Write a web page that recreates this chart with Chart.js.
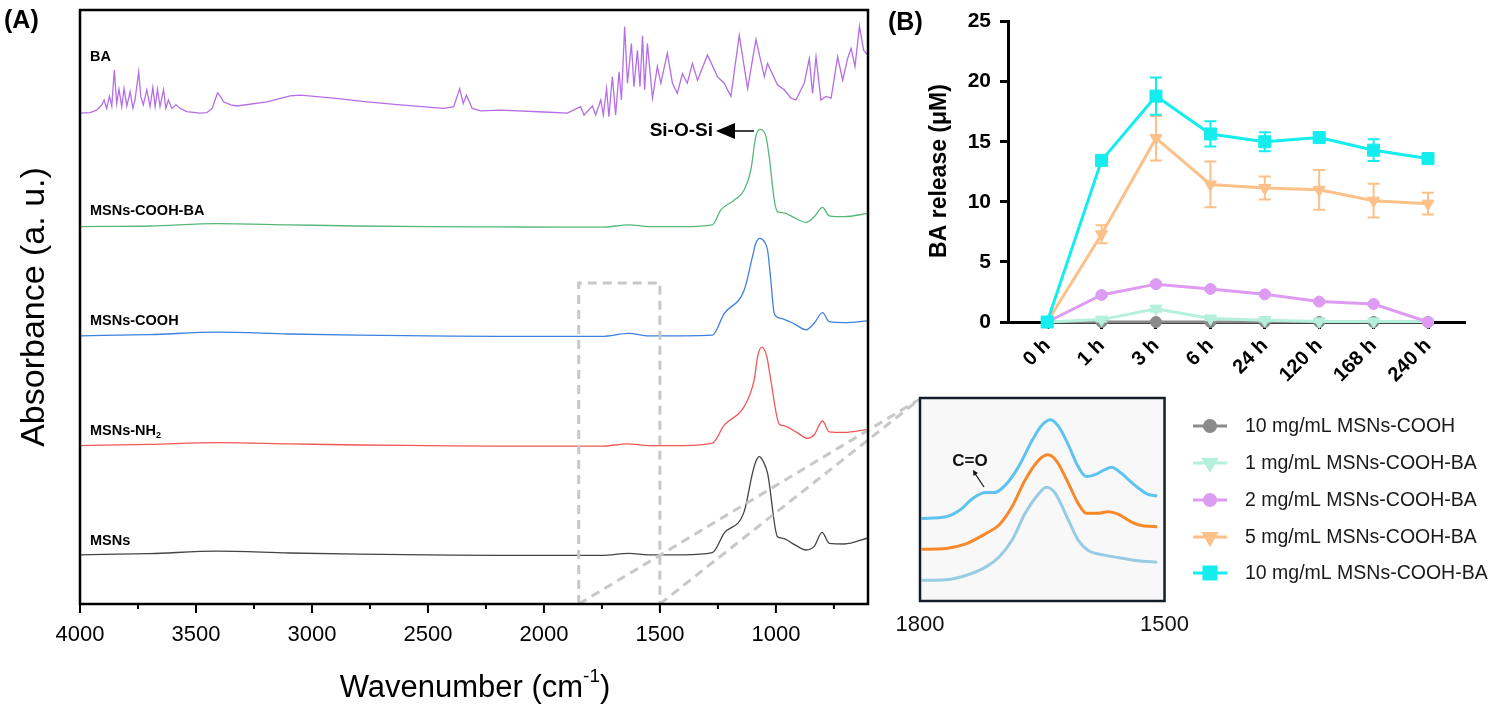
<!DOCTYPE html>
<html>
<head>
<meta charset="utf-8">
<script src="https://cdn.jsdelivr.net/npm/chart.js@4.4.0/dist/chart.umd.min.js"></script>
<style>
  body { margin: 0; background: #fff; width: 1500px; height: 707px; position: relative; overflow: hidden; }
  canvas { position: absolute; }
  #specA { left: 0; top: 0; }
  #inset { left: 880px; top: 370px; }
  #releaseB { left: 880px; top: 0; }
</style>
</head>
<body>
<canvas id="specA" width="940" height="707"></canvas>
<canvas id="inset" width="320" height="290"></canvas>
<canvas id="releaseB" width="620" height="707"></canvas>
<script>
'use strict';
const SANS = "'Liberation Sans', Arial, Helvetica, sans-serif";
Chart.defaults.font.family = SANS;
Chart.defaults.color = '#000';

// =============== panel A: FTIR spectra (stacked, arbitrary units) ===============
const waveBA = [4000, 3957, 3928, 3906, 3896, 3885, 3873, 3863, 3852, 3842, 3832, 3820, 3810, 3798, 3784, 3772, 3763, 3747, 3738, 3727, 3712, 3698, 3686, 3676, 3666, 3655, 3640, 3630, 3619, 3604, 3586, 3568, 3540, 3482, 3453, 3430, 3418, 3407, 3395, 3381, 3350, 3324, 3194, 3094, 3050, 2907, 2763, 2619, 2432, 2389, 2363, 2348, 2334, 2309, 2273, 2187, 2000, 1899, 1842, 1827, 1791, 1777, 1755, 1744, 1730, 1720, 1705, 1691, 1676, 1666, 1652, 1640, 1623, 1612, 1597, 1586, 1575, 1566, 1554, 1532, 1511, 1496, 1468, 1446, 1425, 1403, 1382, 1360, 1338, 1295, 1252, 1223, 1194, 1158, 1122, 1086, 1050, 1036, 993, 964, 935, 914, 878, 856, 842, 827, 806, 784, 762, 734, 712, 691, 676, 659, 640, 622, 604];
const absBA = [81.8, 81.9, 82.3, 83.2, 84.0, 82.6, 84.6, 83.0, 89.0, 83.4, 85.8, 82.9, 85.9, 83.0, 85.4, 82.6, 84.0, 88.7, 84.6, 83.2, 85.7, 82.9, 86.1, 82.9, 85.8, 82.9, 85.7, 82.6, 84.0, 82.6, 83.2, 82.6, 82.05, 81.8, 81.9, 82.6, 84.0, 85.2, 84.6, 83.7, 83.2, 83.0, 83.7, 84.7, 84.8, 84.3, 83.7, 83.2, 82.6, 82.9, 85.9, 83.4, 84.8, 82.6, 82.2, 82.3, 82.0, 81.8, 82.9, 81.5, 83.0, 81.5, 84.0, 81.5, 85.9, 81.2, 87.9, 81.5, 88.7, 84.0, 96.2, 86.8, 93.4, 86.2, 92.3, 86.2, 94.7, 85.7, 93.4, 84.3, 89.6, 86.8, 91.8, 86.8, 85.1, 88.4, 86.8, 90.1, 87.3, 91.5, 87.9, 86.8, 84.6, 94.8, 85.9, 94.1, 87.9, 90.1, 86.5, 85.7, 84.3, 84.0, 86.8, 90.9, 85.1, 91.2, 84.0, 84.6, 84.3, 91.2, 87.3, 90.9, 92.6, 89.6, 96.3, 92.3, 91.5];

const waveCoohBA = [4000, 3700, 3409, 3100, 2800, 2500, 2200, 1900, 1750, 1633, 1550, 1400, 1274, 1237, 1180, 1137, 1108, 1087, 1065, 1043, 1029, 1007, 993, 967, 921, 870, 835, 799, 770, 705, 604];
const absCoohBA = [62.9, 63.0, 63.4, 63.2, 63.0, 62.9, 62.85, 62.8, 62.8, 63.2, 62.9, 62.9, 63.2, 65.7, 67.3, 69.0, 72.3, 77.9, 79.1, 77.9, 74.6, 67.3, 65.4, 65.2, 64.4, 63.6, 64.55, 66.1, 64.7, 64.55, 65.1];

const waveCooh = [4000, 3700, 3409, 3100, 2800, 2500, 2200, 1900, 1750, 1633, 1550, 1400, 1274, 1223, 1137, 1101, 1087, 1069, 1050, 1036, 1022, 1007, 979, 921, 870, 835, 799, 770, 705, 604];
const absCooh = [44.7, 44.9, 45.3, 45.0, 44.8, 44.7, 44.6, 44.6, 44.6, 45.1, 44.7, 44.7, 44.8, 48.4, 52.3, 57.9, 60.1, 60.95, 60.4, 59.0, 54.0, 48.4, 47.6, 46.7, 45.7, 46.8, 48.55, 47.05, 46.9, 47.2];

const waveNH2 = [4000, 3700, 3409, 3100, 2800, 2500, 2200, 1900, 1750, 1640, 1550, 1400, 1274, 1223, 1137, 1094, 1079, 1061, 1039, 1022, 986, 964, 910, 863, 835, 799, 770, 705, 604];
const absNH2 = [26.4, 26.6, 26.9, 26.7, 26.5, 26.4, 26.3, 26.3, 26.3, 26.7, 26.4, 26.4, 26.8, 29.8, 32.9, 37.3, 41.2, 42.8, 41.2, 37.3, 30.0, 29.7, 28.6, 27.6, 28.2, 30.5, 28.7, 28.6, 29.1];

const waveMSN = [4000, 3700, 3409, 3100, 2800, 2500, 2200, 1900, 1750, 1633, 1550, 1400, 1274, 1223, 1137, 1101, 1087, 1072, 1054, 1036, 993, 971, 920, 870, 835, 801, 770, 705, 604];
const absMSN = [8.2, 8.4, 8.8, 8.5, 8.3, 8.2, 8.1, 8.1, 8.1, 8.45, 8.2, 8.2, 8.55, 11.8, 15.4, 21.8, 23.7, 24.55, 23.7, 21.8, 11.2, 10.95, 9.9, 9.0, 9.6, 11.95, 10.1, 10.0, 11.0];

const specTicks = [4000, 3750, 3500, 3250, 3000, 2750, 2500, 2250, 2000, 1750, 1500, 1250, 1000, 750];

// =============== inset: 1800-1500 cm-1 zoom ===============
const insWaveTop = [1798, 1768, 1751, 1735, 1719, 1709, 1695, 1679, 1662, 1650, 1640, 1630, 1618, 1606, 1596, 1586, 1574, 1565, 1553, 1537, 1521, 1509];
const insAbsTop = [40.7, 41.5, 44.8, 50.6, 53.4, 53.4, 57.2, 66.2, 79.4, 86.8, 89.3, 86.0, 76.9, 66.2, 61.3, 62.1, 64.6, 65.9, 62.9, 57.2, 52.7, 51.7];
const insWaveMid = [1798, 1768, 1743, 1719, 1703, 1687, 1671, 1654, 1643, 1632, 1618, 1606, 1596, 1582, 1569, 1557, 1541, 1525, 1509];
const insAbsMid = [25.5, 25.9, 28.3, 33.3, 37.4, 46.5, 59.6, 69.5, 72.0, 68.7, 58.0, 48.1, 43.2, 43.2, 44.0, 42.8, 39.0, 36.9, 36.6];
const insWaveLow = [1798, 1768, 1743, 1719, 1703, 1687, 1671, 1654, 1645, 1634, 1618, 1606, 1594, 1574, 1557, 1533, 1509];
const insAbsLow = [10.2, 10.5, 12.7, 16.8, 21.7, 30.0, 43.2, 53.0, 56.0, 53.0, 39.9, 30.0, 25.0, 22.6, 21.4, 19.8, 19.1];

// =============== panel B: BA release ===============
const timeLabels = ['0 h', '1 h', '3 h', '6 h', '24 h', '120 h', '168 h', '240 h'];
const cooh10 = [0, 0, 0, 0, 0, 0, 0, 0];
const ba1 = [0, 0.2, 1.1, 0.3, 0.15, 0.05, 0.05, 0.05];
const ba1Err = [0, 0.15, 0.25, 0.15, 0.1, 0.05, 0.05, 0.05];
const ba2 = [0, 2.25, 3.15, 2.75, 2.3, 1.7, 1.5, 0];
const ba2Err = [0, 0.1, 0.15, 0.1, 0.1, 0.1, 0.1, 0];
const ba5 = [0, 7.3, 15.3, 11.45, 11.15, 11.0, 10.1, 9.85];
const ba5Err = [0, 0.75, 1.85, 1.9, 0.95, 1.65, 1.4, 0.9];
const ba10 = [0, 13.45, 18.8, 15.65, 15.0, 15.35, 14.3, 13.6];
const ba10Err = [0, 0.25, 1.55, 1.05, 0.8, 0.3, 0.9, 0.2];

const toXY = (xs, ys) => xs.map((x, i) => ({x: x, y: ys[i]}));

// =============== panel A chart ===============
function spectrum(xs, ys, color, smooth) {
    return {
        data: toXY(xs, ys),
        borderColor: color,
        borderWidth: 1.3,
        pointRadius: 0,
        tension: 0,
        cubicInterpolationMode: smooth ? 'monotone' : 'default'
    };
}

function subText(ctx, main, sub, x, y, size) {
    ctx.font = 'bold ' + size + 'px ' + SANS;
    ctx.fillText(main, x, y);
    const w = ctx.measureText(main).width;
    ctx.font = 'bold ' + Math.round(size * 0.65) + 'px ' + SANS;
    ctx.fillText(sub, x + w, y + size * 0.3);
}

const specDecor = {
    id: 'specDecor',
    afterDatasetsDraw(chart) {
        const {ctx, chartArea: a, scales: {x, y}} = chart;
        ctx.save();
        // dashed zoom box and guide lines to the inset
        ctx.strokeStyle = '#c8c8c8';
        ctx.lineWidth = 3;
        ctx.setLineDash([9, 6]);
        const bx1 = x.getPixelForValue(1850), bx2 = x.getPixelForValue(1500), by = y.getPixelForValue(53.5);
        ctx.beginPath();
        ctx.moveTo(bx1, a.bottom); ctx.lineTo(bx1, by); ctx.lineTo(bx2, by); ctx.lineTo(bx2, a.bottom);
        ctx.moveTo(bx1, a.bottom); ctx.lineTo(920, 399);
        ctx.moveTo(bx2, a.bottom); ctx.lineTo(920, 399);
        ctx.stroke();
        ctx.setLineDash([]);

        // frame
        ctx.strokeStyle = '#000';
        ctx.lineWidth = 2.5;
        ctx.strokeRect(a.left, a.top, a.right - a.left, a.bottom - a.top);

        // major / minor ticks
        ctx.lineWidth = 2;
        specTicks.forEach(v => {
            const px = x.getPixelForValue(v);
            ctx.beginPath();
            ctx.moveTo(px, a.bottom);
            ctx.lineTo(px, a.bottom + (v % 500 === 0 ? 9 : 5));
            ctx.stroke();
        });

        // trace labels
        ctx.fillStyle = '#000';
        ctx.textAlign = 'left';
        ctx.textBaseline = 'middle';
        ctx.font = 'bold 14.5px ' + SANS;
        ctx.fillText('BA', 90, 57);
        ctx.fillText('MSNs-COOH-BA', 90, 211);
        ctx.fillText('MSNs-COOH', 90, 321);
        subText(ctx, 'MSNs-NH', '2', 90, 431, 14.5);
        ctx.font = 'bold 14.5px ' + SANS;
        ctx.fillText('MSNs', 90, 541);

        // Si-O-Si marker
        ctx.font = 'bold 19px ' + SANS;
        ctx.textAlign = 'right';
        ctx.fillText('Si-O-Si', 713, 131);
        ctx.beginPath();
        ctx.moveTo(716, 131); ctx.lineTo(735, 123); ctx.lineTo(735, 139); ctx.closePath();
        ctx.fill();
        ctx.lineWidth = 1.5;
        ctx.beginPath(); ctx.moveTo(735, 131); ctx.lineTo(754, 131); ctx.stroke();

        // panel letter and axis titles
        ctx.textAlign = 'left';
        ctx.font = 'bold 25px ' + SANS;
        ctx.fillText('(A)', 4, 21);

        ctx.font = '31px ' + SANS;
        const t1 = 'Wavenumber (cm', t2 = '-1', t3 = ')';
        const w1 = ctx.measureText(t1).width, w3 = ctx.measureText(t3).width;
        ctx.font = '19px ' + SANS;
        const w2 = ctx.measureText(t2).width;
        let tx = 475 - (w1 + w2 + w3) / 2;
        ctx.font = '31px ' + SANS;
        ctx.fillText(t1, tx, 688);
        ctx.font = '19px ' + SANS;
        ctx.fillText(t2, tx + w1, 677);
        ctx.font = '31px ' + SANS;
        ctx.fillText(t3, tx + w1 + w2, 688);

        ctx.translate(35, 307);
        ctx.rotate(-Math.PI / 2);
        ctx.textAlign = 'center';
        ctx.font = '34px ' + SANS;
        ctx.fillText('Absorbance (a. u.)', 0, 0);
        ctx.restore();
    }
};

new Chart(document.getElementById('specA'), {
    type: 'line',
    data: {
        datasets: [
            spectrum(waveBA, absBA, '#b56ee6', false),
            spectrum(waveCoohBA, absCoohBA, '#56b879', true),
            spectrum(waveCooh, absCooh, '#3d80e0', true),
            spectrum(waveNH2, absNH2, '#f25757', true),
            spectrum(waveMSN, absMSN, '#444444', true)
        ]
    },
    options: {
        responsive: false,
        animation: false,
        events: [],
        layout: {padding: {left: 80, top: 10, right: 72, bottom: 0}},
        plugins: {legend: {display: false}, tooltip: {enabled: false}},
        scales: {
            x: {
                type: 'linear',
                reverse: true,
                min: 603,
                max: 4000,
                afterBuildTicks: (s) => { s.ticks = specTicks.map(v => ({value: v})); },
                afterFit: (s) => { s.height = 103; },
                grid: {display: false, drawTicks: false},
                border: {display: false},
                ticks: {
                    autoSkip: false,
                    maxRotation: 0,
                    padding: 18,
                    font: {size: 22},
                    callback: (v) => (v % 500 === 0 ? String(v) : '')
                }
            },
            y: {display: false, min: 0, max: 99}
        }
    },
    plugins: [specDecor]
});

// =============== inset chart ===============
const insetDecor = {
    id: 'insetDecor',
    beforeDatasetsDraw(chart) {
        const {ctx, chartArea: a} = chart;
        ctx.save();
        ctx.fillStyle = '#f8f8f9';
        ctx.fillRect(a.left, a.top, a.right - a.left, a.bottom - a.top);
        ctx.restore();
    },
    afterDraw(chart) {
        const {ctx, chartArea: a} = chart;
        ctx.save();
        ctx.strokeStyle = '#161c2c';
        ctx.lineWidth = 2.5;
        ctx.strokeRect(a.left, a.top, a.right - a.left, a.bottom - a.top);
        ctx.fillStyle = '#111';
        ctx.font = 'bold 17px ' + SANS;
        ctx.textAlign = 'center';
        ctx.textBaseline = 'middle';
        ctx.fillText('C=O', 90, 91);
        ctx.strokeStyle = '#111';
        ctx.lineWidth = 1.2;
        ctx.beginPath(); ctx.moveTo(104, 117); ctx.lineTo(94, 102); ctx.stroke();
        ctx.beginPath(); ctx.moveTo(93, 100); ctx.lineTo(93.5, 106); ctx.lineTo(98, 103); ctx.closePath(); ctx.fill();
        ctx.restore();
    }
};

function insetLine(xs, ys, color) {
    return {data: toXY(xs, ys), borderColor: color, borderWidth: 3, pointRadius: 0, cubicInterpolationMode: 'monotone'};
}

new Chart(document.getElementById('inset'), {
    type: 'line',
    data: {
        datasets: [
            insetLine(insWaveTop, insAbsTop, '#5ec3ef'),
            insetLine(insWaveMid, insAbsMid, '#f7892b'),
            insetLine(insWaveLow, insAbsLow, '#97cce3')
        ]
    },
    options: {
        responsive: false,
        animation: false,
        events: [],
        layout: {padding: {left: 40, top: 28, right: 33, bottom: 0}},
        plugins: {legend: {display: false}, tooltip: {enabled: false}},
        scales: {
            x: {
                type: 'linear',
                reverse: true,
                min: 1500,
                max: 1800,
                afterBuildTicks: (s) => { s.ticks = [{value: 1800}, {value: 1500}]; },
                afterFit: (s) => { s.height = 59; },
                grid: {display: false, drawTicks: false},
                border: {display: false},
                ticks: {autoSkip: false, maxRotation: 0, padding: 11, font: {size: 22}, color: '#111', callback: (v) => String(v)}
            },
            y: {display: false, min: 0, max: 100}
        }
    },
    plugins: [insetDecor]
});

// =============== panel B chart ===============
function release(label, vals, err, color, style, radius, rotation, order) {
    return {
        label: label,
        data: vals.map((v, i) => ({x: i, y: v})),
        err: err,
        borderColor: color,
        backgroundColor: color,
        pointBackgroundColor: color,
        pointBorderColor: color,
        pointBorderWidth: 1,
        pointStyle: style,
        pointRadius: radius,
        pointRotation: rotation,
        borderWidth: 3,
        tension: 0,
        clip: false,
        order: order
    };
}

const errorBars = {
    id: 'errorBars',
    beforeDatasetDraw(chart, args) {
        const ds = chart.data.datasets[args.index];
        if (!ds.err) return;
        const {ctx, scales: {x, y}} = chart;
        ctx.save();
        ctx.strokeStyle = ds.borderColor;
        ctx.lineWidth = 2;
        ds.data.forEach((p, i) => {
            const e = ds.err[i];
            if (!e) return;
            const px = x.getPixelForValue(p.x);
            const top = y.getPixelForValue(p.y + e), bot = y.getPixelForValue(p.y - e);
            ctx.beginPath();
            ctx.moveTo(px, top); ctx.lineTo(px, bot);
            ctx.moveTo(px - 6, top); ctx.lineTo(px + 6, top);
            ctx.moveTo(px - 6, bot); ctx.lineTo(px + 6, bot);
            ctx.stroke();
        });
        ctx.restore();
    }
};

const releaseDecor = {
    id: 'releaseDecor',
    afterDraw(chart) {
        const {ctx} = chart;
        ctx.save();
        ctx.fillStyle = '#000';
        ctx.textBaseline = 'middle';
        ctx.textAlign = 'left';
        ctx.font = 'bold 25px ' + SANS;
        ctx.fillText('(B)', 8, 23);

        ctx.save();
        ctx.translate(60, 171);
        ctx.rotate(-Math.PI / 2);
        ctx.textAlign = 'center';
        ctx.font = 'bold 23px ' + SANS;
        ctx.fillText('BA release (\u03bcM)', 0, 0);
        ctx.restore();

        // legend
        const rows = [426, 463, 500, 537, 573];
        chart.data.datasets.forEach((ds, i) => {
            const ly = rows[i];
            ctx.strokeStyle = ds.borderColor;
            ctx.fillStyle = ds.borderColor;
            ctx.lineWidth = 3;
            ctx.beginPath(); ctx.moveTo(313, ly); ctx.lineTo(347, ly); ctx.stroke();
            Chart.helpers.drawPoint(ctx, {pointStyle: ds.pointStyle, radius: ds.pointRadius, rotation: ds.pointRotation, borderWidth: 1}, 330, ly);
            ctx.fillStyle = '#1a1a1a';
            ctx.font = '19.5px ' + SANS;
            ctx.fillText(ds.label, 365, ly + 1);
        });
        ctx.restore();
    }
};

new Chart(document.getElementById('releaseB'), {
    type: 'line',
    data: {
        datasets: [
            release('10 mg/mL MSNs-COOH', cooh10, null, '#8a8a8a', 'circle', 5.5, 0, 5),
            release('1 mg/mL MSNs-COOH-BA', ba1, ba1Err, '#b4f0dc', 'triangle', 7, 180, 4),
            release('2 mg/mL MSNs-COOH-BA', ba2, ba2Err, '#dd9bf2', 'circle', 5.5, 0, 3),
            release('5 mg/mL MSNs-COOH-BA', ba5, ba5Err, '#fcc189', 'triangle', 7, 180, 2),
            release('10 mg/mL MSNs-COOH-BA', ba10, ba10Err, '#14eded', 'rect', 8.5, 0, 1)
        ]
    },
    options: {
        responsive: false,
        animation: false,
        events: [],
        layout: {padding: {left: 0, top: 19, right: 35, bottom: 0}},
        plugins: {legend: {display: false}, tooltip: {enabled: false}},
        scales: {
            x: {
                type: 'linear',
                min: -0.72,
                max: 7.68,
                afterBuildTicks: (s) => { s.ticks = timeLabels.map((t, i) => ({value: i})); },
                afterFit: (s) => { s.height = 385; },
                grid: {drawOnChartArea: false, tickLength: 7, tickWidth: 3, tickColor: '#000'},
                border: {color: '#000', width: 3},
                ticks: {
                    autoSkip: false,
                    minRotation: 45,
                    maxRotation: 45,
                    padding: 5,
                    font: {size: 20, weight: 'bold'},
                    callback: (v) => timeLabels[v]
                }
            },
            y: {
                min: 0,
                max: 25,
                afterFit: (s) => { s.width = 128; },
                grid: {drawOnChartArea: false, tickLength: 8, tickWidth: 3, tickColor: '#000'},
                border: {color: '#000', width: 3},
                ticks: {stepSize: 5, padding: 9, font: {size: 21, weight: 'bold'}}
            }
        }
    },
    plugins: [errorBars, releaseDecor]
});
</script>
</body>
</html>
